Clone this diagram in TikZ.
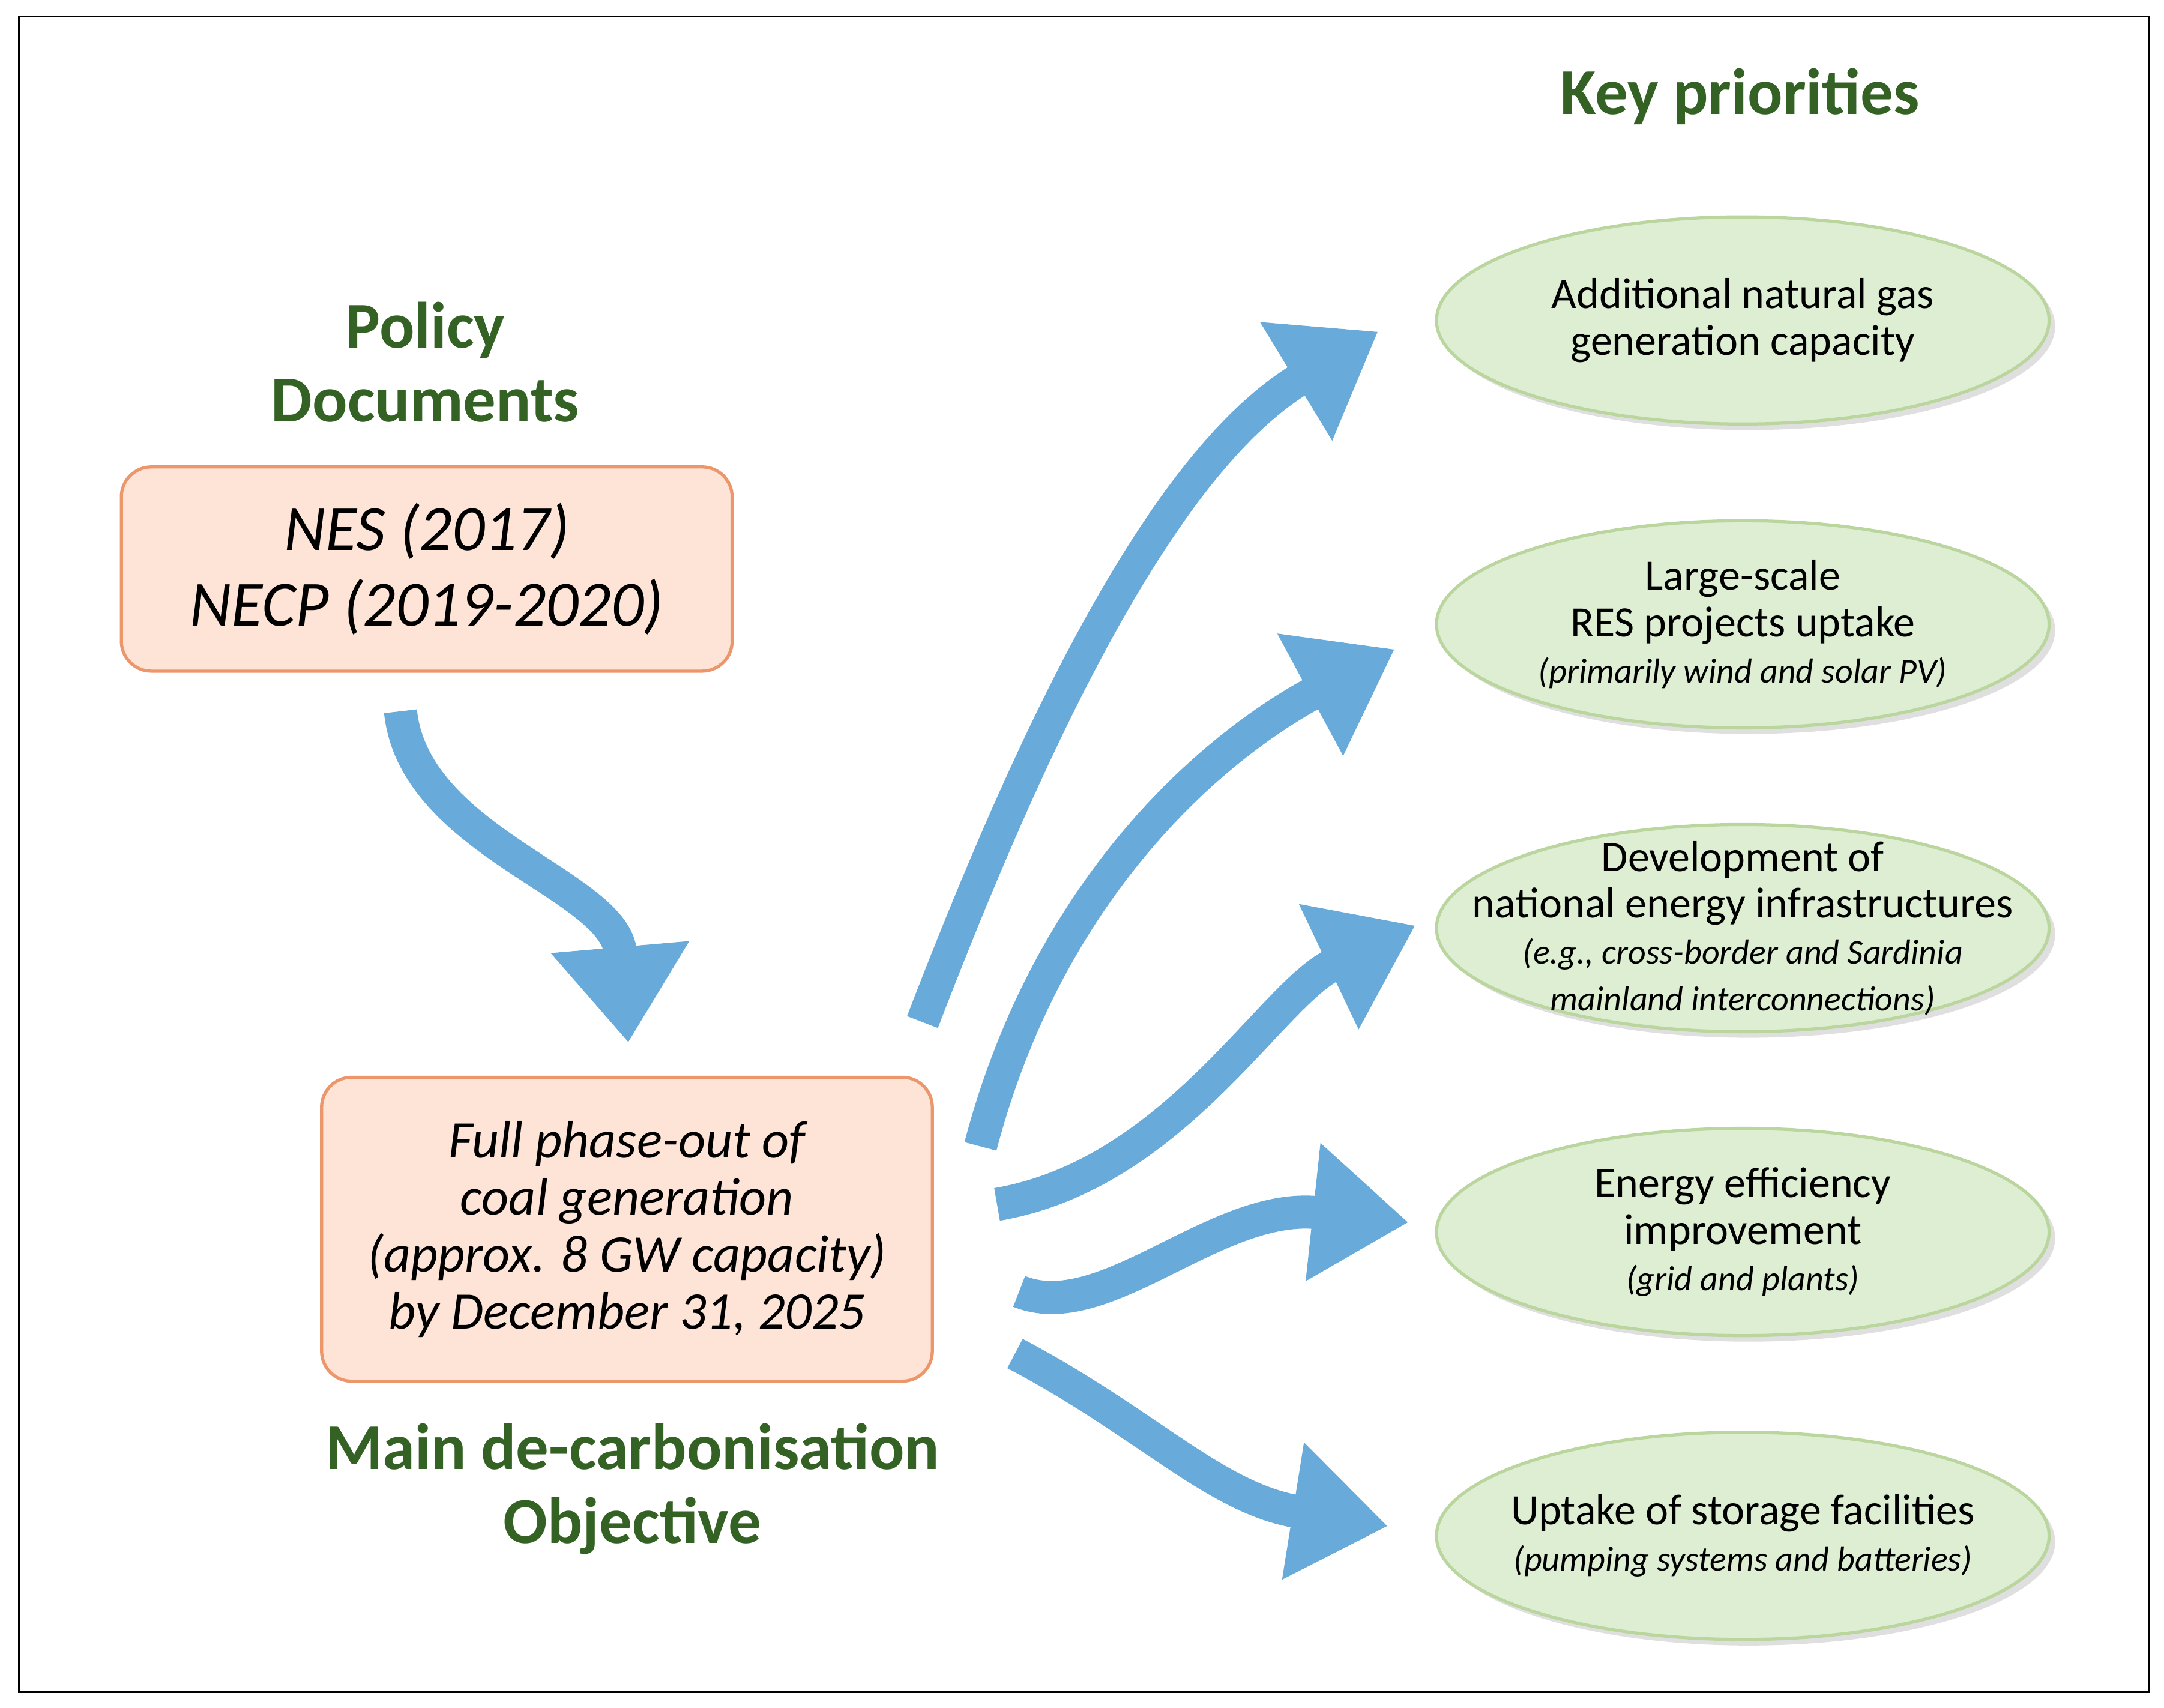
\documentclass[tikz,border=0pt]{standalone}
\usepackage{fontspec}
\setmainfont{Carlito}
\usetikzlibrary{arrows.meta,shapes.geometric,shadows}
\definecolor{headgreen}{RGB}{52,98,36}
\definecolor{boxfill}{RGB}{253,228,214}
\definecolor{boxline}{RGB}{236,150,108}
\definecolor{ellfill}{RGB}{221,238,211}
\definecolor{ellline}{RGB}{186,214,158}
\definecolor{flow}{RGB}{104,170,218}
\newcommand{\smallnote}{\fontsize{16.5}{19}\selectfont\itshape}
\begin{document}
\begin{tikzpicture}[%
    x=0.023cm, y=-0.023cm,
    head/.style={text=headgreen, font=\fontsize{31}{35}\selectfont\bfseries, align=center},
    objective/.style={rectangle, rounded corners=0.5cm, draw=boxline, line width=1.5pt,
      fill=boxfill, minimum width=10.17cm, align=center},
    priority/.style={ellipse, draw=ellline, line width=1.5pt, fill=ellfill,
      minimum width=10.2cm, minimum height=3.45cm, inner sep=0pt,
      drop shadow={opacity=0.25, shadow xshift=0.1cm, shadow yshift=-0.1cm}},
    priotext/.style={align=center, font=\fontsize{20.5}{22}\selectfont},
    flowarrow/.style={draw=flow, line width=0.55cm,
      -{Triangle[width=2.2cm,length=1.6cm]}}
  ]
    \useasboundingbox (0,0) rectangle (1567,1236.5);
    \draw[line width=1pt] (14,12) rectangle (1556,1225);

    \node[head] (keyprio) at (1260,70) {Key priorities};
    \node[head] (policy) at (308,262) {Policy\\Documents};
    \node[head] (mainobj) at (458,1078) {Main de-carbonisation\\Objective};

    \node[objective, minimum height=3.4cm, font=\fontsize{30.5}{36}\selectfont\itshape]
      (docs) at (309,412) {NES (2017)\\NECP (2019-2020)};
    \node[objective, minimum height=5.06cm, font=\fontsize{25}{27}\selectfont\itshape]
      (phaseout) at (454,890) {Full phase-out of\\coal generation\\(approx. 8 GW capacity)\\by December 31, 2025};

    \node[priority] (gas) at (1262,232) {};
    \node[priority] (res) at (1262,452) {};
    \node[priority] (infra) at (1262,672) {};
    \node[priority] (effic) at (1262,892) {};
    \node[priority] (storage) at (1262,1112) {};

    \node[priotext] at (gas) {Additional natural gas\\generation capacity};
    \node[priotext] at (res) {Large-scale\\RES projects uptake\\{\smallnote (primarily wind and solar PV)}};
    \node[priotext] at (infra) {Development of\\national energy infrastructures\\
      {\smallnote (e.g., cross-border and Sardinia}\\{\smallnote mainland interconnections)}};
    \node[priotext] at (effic) {Energy efficiency\\improvement\\{\smallnote (grid and plants)}};
    \node[priotext] at (storage) {Uptake of storage facilities\\{\smallnote (pumping systems and batteries)}};

    % arrow ends
    \coordinate (d0) at (290,515);   \coordinate (d1) at (455,755);
    \coordinate (g0) at (668,740);   \coordinate (g1) at (998,240);
    \coordinate (r0) at (710,830);   \coordinate (r1) at (1010,470);
    \coordinate (i0) at (722,872);   \coordinate (i1) at (1025,670);
    \coordinate (e0) at (738,935);   \coordinate (e1) at (1020,885);
    \coordinate (s0) at (735,980);   \coordinate (s1) at (1005,1105);

    \draw[flowarrow] (d0) .. controls (300,610) and (445,640) .. (d1);
    \draw[flowarrow] (g0) .. controls (760,500) and (850,330) .. (g1);
    \draw[flowarrow] (r0) .. controls (760,640) and (880,540) .. (r1);
    \draw[flowarrow] (i0) .. controls (850,850) and (920,720) .. (i1);
    \draw[flowarrow] (e0) .. controls (800,960) and (880,870) .. (e1);
    \draw[flowarrow] (s0) .. controls (830,1030) and (880,1085) .. (s1);
  \end{tikzpicture}
\end{document}
